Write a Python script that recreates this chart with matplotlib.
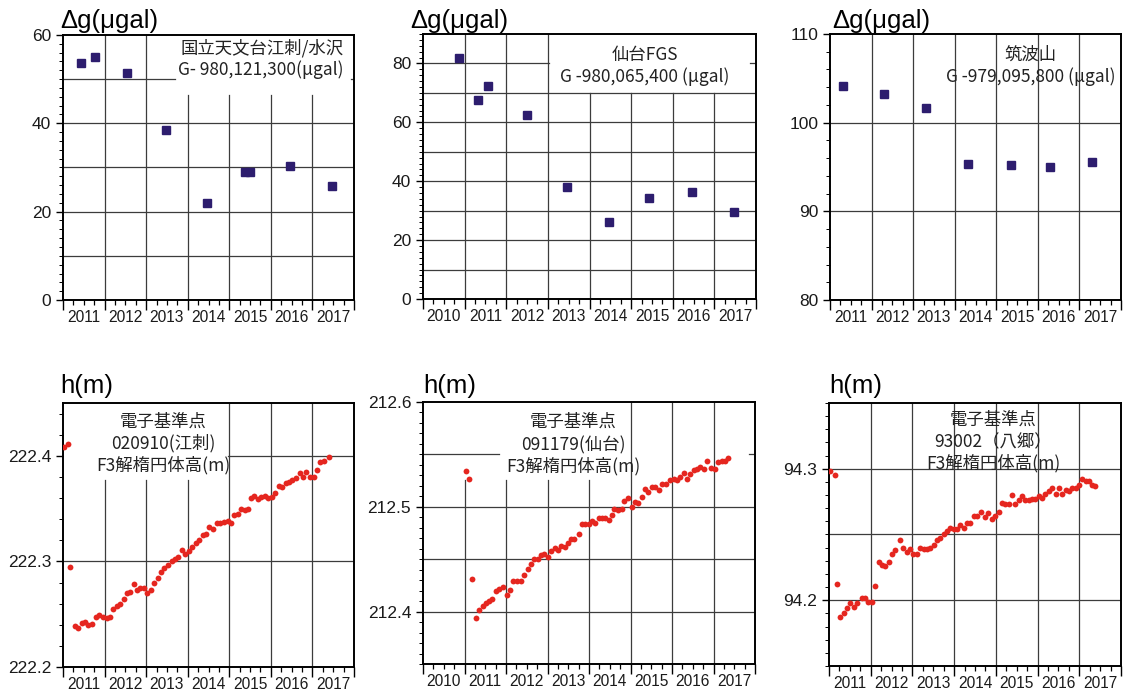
import numpy as np
import matplotlib
matplotlib.use("Agg")
import matplotlib.pyplot as plt
from matplotlib.ticker import FixedLocator, FuncFormatter

# ---------------- gravity (squares) ----------------
g_mizusawa_t = [2011.43, 2011.77, 2012.53, 2013.48, 2014.47, 2015.37, 2015.50, 2016.47, 2017.47]
g_mizusawa = [53.7, 55.1, 51.5, 38.5, 21.9, 29.0, 29.0, 30.4, 25.7]

g_sendai_t = [2010.87, 2011.31, 2011.55, 2012.49, 2013.47, 2014.46, 2015.43, 2016.47, 2017.48]
g_sendai = [81.9, 67.7, 72.4, 62.6, 38.0, 26.3, 34.2, 36.5, 29.5]

g_tsukuba_t = [2011.31, 2012.31, 2013.31, 2014.31, 2015.36, 2016.30, 2017.30]
g_tsukuba = [104.1, 103.2, 101.7, 95.3, 95.2, 95.0, 95.6]

# ---------------- GNSS ellipsoidal height (red dots) ----------------
h_esashi_t = [2011.02, 2011.12, 2011.18, 2011.28, 2011.37, 2011.45, 2011.53, 2011.61, 2011.70, 2011.79,
              2011.87, 2011.97, 2012.05, 2012.13, 2012.21, 2012.29, 2012.37, 2012.46, 2012.54, 2012.62,
              2012.70, 2012.77, 2012.85, 2012.95, 2013.03, 2013.11, 2013.20, 2013.28, 2013.36, 2013.44,
              2013.52, 2013.61, 2013.70, 2013.77, 2013.86, 2013.94, 2014.02, 2014.10, 2014.20, 2014.28,
              2014.36, 2014.44, 2014.52, 2014.62, 2014.70, 2014.78, 2014.88, 2014.96, 2015.04, 2015.12,
              2015.20, 2015.28, 2015.37, 2015.45, 2015.52, 2015.60, 2015.69, 2015.77, 2015.85, 2015.94,
              2016.02, 2016.11, 2016.19, 2016.28, 2016.36, 2016.44, 2016.52, 2016.61, 2016.69, 2016.77,
              2016.85, 2016.95, 2017.03, 2017.11, 2017.19, 2017.27, 2017.39]
h_esashi = [222.408, 222.411, 222.295, 222.239, 222.237, 222.242, 222.243, 222.240, 222.241, 222.247,
            222.249, 222.247, 222.246, 222.247, 222.255, 222.258, 222.260, 222.264, 222.270, 222.271,
            222.279, 222.273, 222.275, 222.275, 222.270, 222.273, 222.280, 222.284, 222.290, 222.294,
            222.297, 222.300, 222.302, 222.304, 222.311, 222.307, 222.310, 222.314, 222.317, 222.320,
            222.325, 222.326, 222.333, 222.331, 222.336, 222.336, 222.337, 222.338, 222.336, 222.344,
            222.345, 222.350, 222.349, 222.350, 222.360, 222.362, 222.359, 222.361, 222.362, 222.360,
            222.361, 222.365, 222.371, 222.370, 222.374, 222.375, 222.377, 222.379, 222.384, 222.380,
            222.385, 222.380, 222.380, 222.387, 222.394, 222.395, 222.399]

h_sendai_t = [2011.03, 2011.12, 2011.19, 2011.28, 2011.36, 2011.44, 2011.51, 2011.59, 2011.67, 2011.75,
              2011.84, 2011.93, 2012.02, 2012.10, 2012.18, 2012.26, 2012.36, 2012.44, 2012.52, 2012.60,
              2012.68, 2012.76, 2012.84, 2012.92, 2013.01, 2013.09, 2013.17, 2013.25, 2013.33, 2013.41,
              2013.49, 2013.57, 2013.65, 2013.75, 2013.83, 2013.91, 2013.99, 2014.07, 2014.15, 2014.23,
              2014.31, 2014.39, 2014.47, 2014.55, 2014.61, 2014.71, 2014.79, 2014.85, 2014.93, 2015.03,
              2015.11, 2015.19, 2015.27, 2015.35, 2015.43, 2015.51, 2015.59, 2015.69, 2015.77, 2015.86,
              2015.94, 2016.04, 2016.12, 2016.20, 2016.28, 2016.36, 2016.44, 2016.52, 2016.60, 2016.68,
              2016.76, 2016.85, 2016.93, 2017.04, 2017.12, 2017.20, 2017.28, 2017.36]
h_sendai = [212.534, 212.527, 212.431, 212.394, 212.402, 212.405, 212.408, 212.410, 212.412, 212.420,
            212.422, 212.423, 212.416, 212.421, 212.429, 212.429, 212.429, 212.435, 212.441, 212.445,
            212.450, 212.450, 212.454, 212.455, 212.452, 212.458, 212.461, 212.459, 212.463, 212.462,
            212.465, 212.469, 212.469, 212.474, 212.484, 212.484, 212.484, 212.486, 212.485, 212.489,
            212.489, 212.489, 212.487, 212.492, 212.498, 212.497, 212.498, 212.506, 212.508, 212.500,
            212.505, 212.504, 212.509, 212.517, 212.514, 212.519, 212.519, 212.516, 212.522, 212.522,
            212.526, 212.527, 212.526, 212.528, 212.532, 212.527, 212.531, 212.535, 212.536, 212.538,
            212.536, 212.544, 212.537, 212.536, 212.543, 212.544, 212.544, 212.547]

h_yasato_t = [2011.03, 2011.14, 2011.19, 2011.27, 2011.35, 2011.43, 2011.51, 2011.59, 2011.67, 2011.78,
              2011.86, 2011.94, 2012.03, 2012.11, 2012.19, 2012.27, 2012.35, 2012.43, 2012.51, 2012.59,
              2012.70, 2012.78, 2012.86, 2012.94, 2013.02, 2013.10, 2013.19, 2013.27, 2013.35, 2013.43,
              2013.51, 2013.59, 2013.67, 2013.75, 2013.83, 2013.91, 2013.99, 2014.07, 2014.15, 2014.23,
              2014.31, 2014.39, 2014.47, 2014.55, 2014.64, 2014.74, 2014.82, 2014.91, 2014.99, 2015.07,
              2015.15, 2015.23, 2015.31, 2015.39, 2015.47, 2015.55, 2015.63, 2015.71, 2015.79, 2015.87,
              2015.95, 2016.03, 2016.11, 2016.19, 2016.27, 2016.35, 2016.43, 2016.51, 2016.59, 2016.67,
              2016.75, 2016.83, 2016.91, 2016.99, 2017.07, 2017.15, 2017.23, 2017.31, 2017.38]
h_yasato = [94.298, 94.295, 94.212, 94.187, 94.190, 94.194, 94.198, 94.195, 94.198, 94.202,
            94.202, 94.199, 94.199, 94.211, 94.229, 94.227, 94.226, 94.229, 94.235, 94.238,
            94.246, 94.240, 94.237, 94.239, 94.235, 94.235, 94.240, 94.239, 94.239, 94.240,
            94.242, 94.246, 94.247, 94.250, 94.253, 94.255, 94.254, 94.254, 94.257, 94.255,
            94.259, 94.259, 94.264, 94.264, 94.267, 94.263, 94.266, 94.262, 94.264, 94.267,
            94.274, 94.273, 94.273, 94.280, 94.273, 94.276, 94.279, 94.276, 94.276, 94.277,
            94.277, 94.279, 94.278, 94.281, 94.283, 94.285, 94.281, 94.285, 94.281, 94.284,
            94.283, 94.285, 94.285, 94.288, 94.292, 94.291, 94.291, 94.288, 94.287]

# ---------------- station captions ----------------
cap_mizusawa = ["国立天文台江刺/水沢", "G- 980,121,300(μgal)"]
cap_sendai_g = ["仙台FGS", "G -980,065,400 (μgal)"]
cap_tsukuba = ["筑波山", "G -979,095,800 (μgal)"]
cap_esashi = ["電子基準点", "020910(江刺)", "F3解楕円体高(m)"]
cap_sendai_h = ["電子基準点", "091179(仙台)", "F3解楕円体高(m)"]
cap_yasato = ["電子基準点", "93002（八郷）", "F3解楕円体高(m)"]

W, H = 1126, 695
SQ_COLOR = "#2d1d6e"
DOT_COLOR = "#e5261f"
GRID = "#3c3c3c"
LATIN = ["Liberation Sans", "DejaVu Sans"]
CJK = ["Noto Sans CJK JP", "DejaVu Sans"]

fig = plt.figure(figsize=(W / 100, H / 100), dpi=100)
fig.patch.set_facecolor("white")


def px_axes(left, top, right, bottom):
    return fig.add_axes([left / W, 1 - bottom / H, (right - left) / W, (bottom - top) / H])


def style(ax, x0, x1, y0, y1, ylab, ystep, yfmt):
    ax.set_xlim(x0, x1)
    ax.set_ylim(y0, y1)
    years = np.arange(x0, x1 + 1)
    quarters = [y + q for y in range(x0, x1) for q in (0.25, 0.5, 0.75)]
    ax.xaxis.set_major_locator(FixedLocator(years))
    ax.xaxis.set_major_formatter(FuncFormatter(lambda v, p: ""))
    ax.xaxis.set_minor_locator(FixedLocator(quarters))
    ax.xaxis.set_minor_formatter(
        FuncFormatter(lambda v, p: f"{int(v)}" if abs(v % 1 - 0.5) < 1e-6 else ""))
    ax.yaxis.set_major_locator(FixedLocator(ylab))
    ax.yaxis.set_major_formatter(FuncFormatter(lambda v, p: yfmt.format(v)))
    nminor = int(round((y1 - y0) / ystep))
    ax.yaxis.set_minor_locator(FixedLocator([y0 + i * ystep for i in range(nminor + 1)]))
    ax.tick_params(axis="x", which="major", direction="out", length=7, width=1.0,
                   top=False, labelbottom=False)
    ax.tick_params(axis="x", which="minor", direction="out", length=3.5, width=0.9,
                   pad=3.5, labelsize=11.2, top=False)
    ax.tick_params(axis="y", which="major", direction="out", length=5, width=1.0,
                   pad=3.5, labelsize=12.5, right=False)
    ax.tick_params(axis="y", which="minor", direction="out", length=3, width=0.7, right=False)
    for lab in ax.get_xticklabels(minor=True) + ax.get_yticklabels():
        lab.set_fontfamily(LATIN)
        lab.set_color("#1a1a1a")
    for sp in ax.spines.values():
        sp.set_linewidth(1.4)
        sp.set_color("black")


def vgrid(ax, x, top=None):
    y0, y1 = ax.get_ylim()
    ax.plot([x, x], [y0, y1 if top is None else top], color=GRID, lw=0.9, zorder=0.5)


def hgrid(ax, y, spans=None):
    x0, x1 = ax.get_xlim()
    for a, b in (spans or [(x0, x1)]):
        ax.plot([a, b], [y, y], color=GRID, lw=0.9, zorder=0.5)


def caption(ax, lines, xc, ys, ha="center", size=12.5):
    for s, y in zip(lines, ys):
        ax.text(xc, y, s, transform=ax.transAxes, ha=ha, va="center",
                fontsize=size, family=CJK, color="#222222", zorder=2)


def ylabel(text, x, baseline):
    fig.text(x / W, 1 - baseline / H, text, fontsize=18.5, family=LATIN,
             ha="left", va="baseline")


# --- top row: gravity ---
ax1 = px_axes(63, 35, 354, 300)
style(ax1, 2011, 2018, 0, 60, [0, 20, 40, 60], 2, "{:.0f}")
for x in (2012, 2013):
    vgrid(ax1, x)
for x in (2014, 2015, 2016, 2017):
    vgrid(ax1, x, top=46.5)
for y in (10, 20, 30, 40):
    hgrid(ax1, y)
hgrid(ax1, 50, [(2011, 2013.69), (2017.92, 2018)])
ax1.plot(g_mizusawa_t, g_mizusawa, "s", ms=6, color=SQ_COLOR, zorder=3)
caption(ax1, cap_mizusawa, 0.963, [0.951, 0.868], ha="right")

ax2 = px_axes(423, 34, 756, 299)
style(ax2, 2010, 2018, 0, 90, [0, 20, 40, 60, 80], 2, "{:.0f}")
for x in (2011, 2012, 2013):
    vgrid(ax2, x)
for x in (2014, 2015, 2016, 2017):
    vgrid(ax2, x, top=70)
for y in (10, 20, 30, 40, 50, 60, 70):
    hgrid(ax2, y)
hgrid(ax2, 80, [(2010, 2013.02), (2017.86, 2018)])
ax2.plot(g_sendai_t, g_sendai, "s", ms=6, color=SQ_COLOR, zorder=3)
caption(ax2, cap_sendai_g, 0.665, [0.921, 0.838])

ax3 = px_axes(830, 34, 1121, 300)
style(ax3, 2011, 2018, 80, 110, [80, 90, 100, 110], 2, "{:.0f}")
for x in range(2012, 2018):
    vgrid(ax3, x)
for y in (90, 100):
    hgrid(ax3, y)
ax3.plot(g_tsukuba_t, g_tsukuba, "s", ms=6, color=SQ_COLOR, zorder=3)
caption(ax3, cap_tsukuba, 0.69, [0.921, 0.84])

# --- bottom row: GNSS heights ---
ax4 = px_axes(63, 403, 354, 667)
style(ax4, 2011, 2018, 222.2, 222.45, [222.2, 222.3, 222.4], 0.02, "{:.1f}")
for x in (2012, 2013, 2014):
    vgrid(ax4, x, top=222.377)
for x in (2015, 2016, 2017):
    vgrid(ax4, x)
hgrid(ax4, 222.3)
hgrid(ax4, 222.4, [(2014.97, 2018)])
ax4.plot(h_esashi_t, h_esashi, "o", ms=4.2, color=DOT_COLOR, mec="none", zorder=3)
caption(ax4, cap_esashi, 0.344, [0.928, 0.848, 0.765])

ax5 = px_axes(423, 402, 755, 664)
style(ax5, 2010, 2018, 212.35, 212.6, [212.4, 212.5, 212.6], 0.01, "{:.1f}")
for x in (2011, 2012, 2013, 2014):
    vgrid(ax5, x, top=212.526)
for x in (2015, 2016, 2017):
    vgrid(ax5, x)
for y in (212.4, 212.45, 212.5):
    hgrid(ax5, y)
hgrid(ax5, 212.55, [(2010, 2011.82), (2017.86, 2018)])
ax5.plot(h_sendai_t, h_sendai, "o", ms=4.2, color=DOT_COLOR, mec="none", zorder=3)
caption(ax5, cap_sendai_h, 0.452, [0.924, 0.836, 0.756])

ax6 = px_axes(829, 403, 1121, 666)
style(ax6, 2011, 2018, 94.15, 94.35, [94.2, 94.3], 0.01, "{:.1f}")
for x in range(2012, 2018):
    vgrid(ax6, x)
for y in (94.2, 94.25, 94.3):
    hgrid(ax6, y)
ax6.plot(h_yasato_t, h_yasato, "o", ms=4.2, color=DOT_COLOR, mec="none", zorder=3)
caption(ax6, cap_yasato, 0.562, [0.935, 0.852, 0.772])

for x in (60, 410, 832):
    ylabel("Δg(μgal)", x, 28)
for x in (60, 423, 829):
    ylabel("h(m)", x, 393)

fig.savefig("out.png", dpi=100, facecolor="white")
